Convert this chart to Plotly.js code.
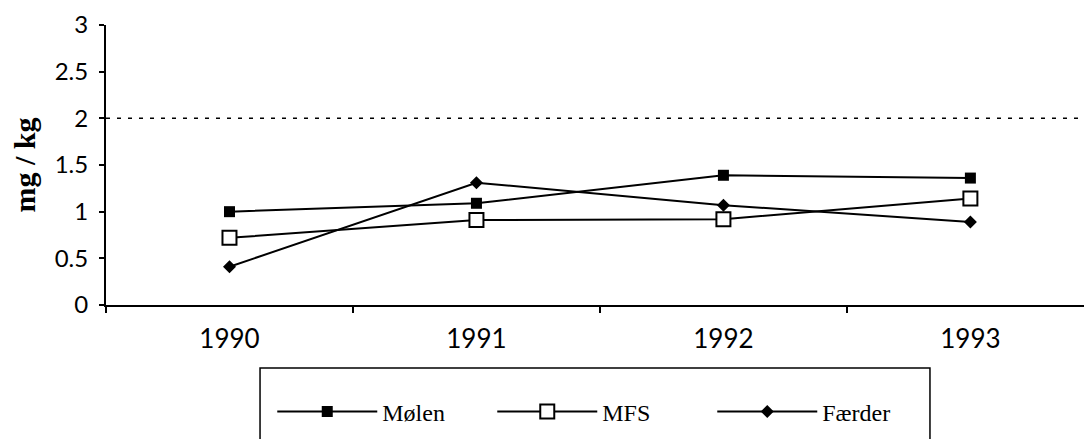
<!DOCTYPE html>
<html>
<head>
<meta charset="utf-8">
<script src="https://cdn.plot.ly/plotly-3.0.1.min.js"></script>
<style>html,body{margin:0;padding:0;background:#fff;}#chart{width:1084px;height:439px;}</style>
</head>
<body>
<div id="chart"></div>
<script>
const years = ["1990", "1991", "1992", "1993"];
const molen = [1.00, 1.09, 1.39, 1.36];
const mfs = [0.72, 0.91, 0.92, 1.14];
const faerder = [0.41, 1.31, 1.07, 0.89];
const limitValue = 2;
const yTicks = [0, 0.5, 1, 1.5, 2, 2.5, 3];
const yTickText = ["0", "0.5", "1", "1.5", "2", "2.5", "3"];

const lineStyle = {color: "#000", width: 2};
const traces = [
  {x: years, y: molen, name: "Mølen", type: "scatter", mode: "lines+markers", line: lineStyle,
   marker: {symbol: "square", size: 11, color: "#000"}},
  {x: years, y: mfs, name: "MFS", type: "scatter", mode: "lines+markers", line: lineStyle,
   marker: {symbol: "square", size: 14, color: "#fff", line: {color: "#000", width: 2}}},
  {x: years, y: faerder, name: "Færder", type: "scatter", mode: "lines+markers", line: lineStyle,
   marker: {symbol: "diamond", size: 10, color: "#000"}}
];

const layout = {
  width: 1084, height: 439,
  margin: {l: 106, r: 0, t: 25, b: 134},
  paper_bgcolor: "#fff", plot_bgcolor: "#fff",
  showlegend: true,
  font: {family: "Lato, 'Liberation Sans', sans-serif", color: "#000"},
  xaxis: {
    type: "category", range: [-0.5, 3.46],
    showline: true, linecolor: "#000", linewidth: 2,
    showgrid: false, zeroline: false,
    ticks: "outside", tickson: "boundaries", ticklen: 6, tickwidth: 2, tickcolor: "#000",
    tickfont: {size: 26, family: "Lato, sans-serif"},
    ticklabelstandoff: 10
  },
  yaxis: {
    range: [0, 3], tickvals: yTicks, ticktext: yTickText,
    showline: true, linecolor: "#000", linewidth: 2,
    showgrid: false, zeroline: false,
    ticks: "outside", ticklen: 5, tickwidth: 2, tickcolor: "#000",
    tickfont: {size: 24, family: "Lato, sans-serif"},
    ticklabelstandoff: 6,
    title: {text: "<b>mg / kg</b>", font: {size: 30, family: "'Liberation Serif', 'Times New Roman', serif"}, standoff: 10}
  },
  shapes: [
    {type: "line", xref: "paper", x0: 0, x1: 1, yref: "y", y0: limitValue, y1: limitValue,
     line: {color: "#000", width: 1.5, dash: "4px,7px"}},
    {type: "rect", xref: "paper", x0: 0.1575, x1: 0.8425, yref: "paper", y0: -0.225, y1: -0.55,
     line: {color: "#000", width: 1.5}, fillcolor: "rgba(0,0,0,0)"}
  ],
  legend: {
    orientation: "h", x: 0.17, xanchor: "left", y: -0.382, yanchor: "middle",
    font: {size: 24, family: "'Liberation Serif', 'Times New Roman', serif"},
    itemwidth: 100, entrywidth: 105, entrywidthmode: "pixels",
    bgcolor: "rgba(0,0,0,0)", borderwidth: 0,
    itemclick: false, itemdoubleclick: false
  }
};

Plotly.newPlot("chart", traces, layout, {displayModeBar: false, staticPlot: true});
</script>
</body>
</html>
